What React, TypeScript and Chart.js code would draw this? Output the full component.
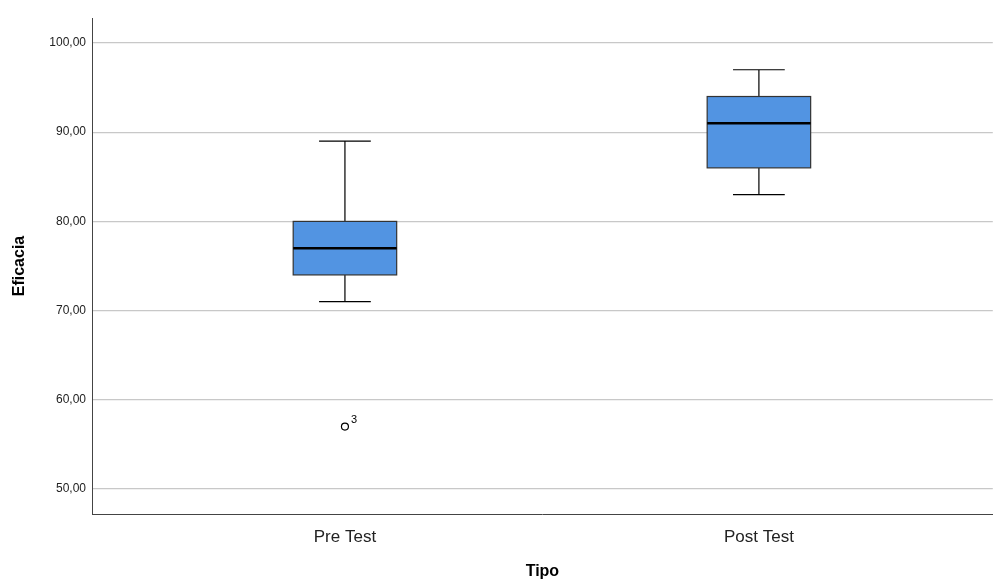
import React, { useEffect, useRef } from "react";
import { Chart, registerables } from "chart.js";
Chart.register(...registerables);

const categories = ["Pre Test", "Post Test"];
const mins = [71, 83];
const q1s = [74, 86];
const medians = [77, 91];
const q3s = [80, 94];
const maxs = [89, 97];
const outlierValues = [57];
const outlierGroups = [0];
const outlierLabels = ["3"];

const boxPlugin = {
  id: "boxes",
  beforeDatasetsDraw(chart: any) {
    const { ctx, scales } = chart;
    const x = scales.x, y = scales.y;
    const half = (x.getPixelForValue(1.125) - x.getPixelForValue(0.875)) / 2;
    const cap = half / 2;
    categories.forEach((_, i) => {
      const cx = x.getPixelForValue(i + 1);
      const yMin = y.getPixelForValue(mins[i]);
      const yQ1 = y.getPixelForValue(q1s[i]);
      const yMed = y.getPixelForValue(medians[i]);
      const yQ3 = y.getPixelForValue(q3s[i]);
      const yMax = y.getPixelForValue(maxs[i]);
      ctx.save();
      ctx.strokeStyle = "#000";
      ctx.lineWidth = 1.2;
      ctx.beginPath();
      ctx.moveTo(cx, yQ3); ctx.lineTo(cx, yMax);
      ctx.moveTo(cx - cap, yMax); ctx.lineTo(cx + cap, yMax);
      ctx.moveTo(cx, yQ1); ctx.lineTo(cx, yMin);
      ctx.moveTo(cx - cap, yMin); ctx.lineTo(cx + cap, yMin);
      ctx.stroke();
      ctx.fillStyle = "#5294e2";
      ctx.fillRect(cx - half, yQ3, 2 * half, yQ1 - yQ3);
      ctx.strokeStyle = "#333";
      ctx.strokeRect(cx - half, yQ3, 2 * half, yQ1 - yQ3);
      ctx.strokeStyle = "#000";
      ctx.lineWidth = 2.5;
      ctx.beginPath();
      ctx.moveTo(cx - half, yMed); ctx.lineTo(cx + half, yMed);
      ctx.stroke();
      ctx.restore();
    });
  },
  afterDatasetsDraw(chart: any) {
    const { ctx, scales } = chart;
    ctx.save();
    ctx.fillStyle = "#000";
    ctx.font = "11px Arial, 'Liberation Sans', sans-serif";
    ctx.textBaseline = "bottom";
    outlierValues.forEach((v, k) => {
      const px = scales.x.getPixelForValue(outlierGroups[k] + 1);
      const py = scales.y.getPixelForValue(v);
      ctx.fillText(outlierLabels[k], px + 6, py - 1);
    });
    ctx.restore();
  },
};

export default function App() {
  const ref = useRef<HTMLCanvasElement>(null);
  useEffect(() => {
    document.body.style.margin = "0";
    const chart = new Chart(ref.current!, {
      type: "scatter",
      data: {
        datasets: [
          {
            data: outlierValues.map((v, k) => ({ x: outlierGroups[k] + 1, y: v })),
            pointStyle: "circle",
            pointRadius: 3.5,
            backgroundColor: "#fff",
            borderColor: "#000",
            borderWidth: 1.2,
          },
        ],
      },
      options: {
        animation: false,
        responsive: false,
        layout: { padding: { top: 18, right: 0, left: 0, bottom: 0 } },
        plugins: { legend: { display: false }, tooltip: { enabled: false } },
        scales: {
          x: {
            type: "linear",
            min: 0.389,
            max: 2.565,
            afterBuildTicks: (s: any) => { s.ticks = [{ value: 1 }, { value: 2 }]; },
            afterFit: (s: any) => { s.height = 65; },
            ticks: {
              callback: (v: any) => categories[Number(v) - 1] ?? "",
              color: "#222",
              font: { size: 17, family: "Arial, 'Liberation Sans', sans-serif" },
              padding: 5,
            },
            grid: { display: false },
            border: { display: true, color: "#444" },
            title: {
              display: true,
              text: "Tipo",
              color: "#000",
              font: { size: 16, weight: "bold", family: "Arial, 'Liberation Sans', sans-serif" },
              padding: { top: 21, bottom: -2 },
            },
          },
          y: {
            min: 47.2,
            max: 102.8,
            afterBuildTicks: (s: any) => { s.ticks = [50, 60, 70, 80, 90, 100].map((v) => ({ value: v })); },
            afterFit: (s: any) => { s.width = 92; },
            ticks: {
              callback: (v: any) => Number(v).toFixed(2).replace(".", ","),
              color: "#222",
              font: { size: 12, family: "Arial, 'Liberation Sans', sans-serif" },
              padding: 6,
            },
            grid: { color: "#c8c8c8", lineWidth: 1.2, drawTicks: false },
            border: { display: true, color: "#444" },
            title: {
              display: true,
              text: "Eficacia",
              color: "#000",
              font: { size: 16, weight: "bold", family: "Arial, 'Liberation Sans', sans-serif" },
              padding: { top: 10, bottom: 4 },
            },
          },
        },
      },
      plugins: [boxPlugin],
    } as any);
    return () => chart.destroy();
  }, []);
  return (
    <div style={{ width: 998, height: 579 }}>
      <canvas ref={ref} width={998} height={579} />
    </div>
  );
}
